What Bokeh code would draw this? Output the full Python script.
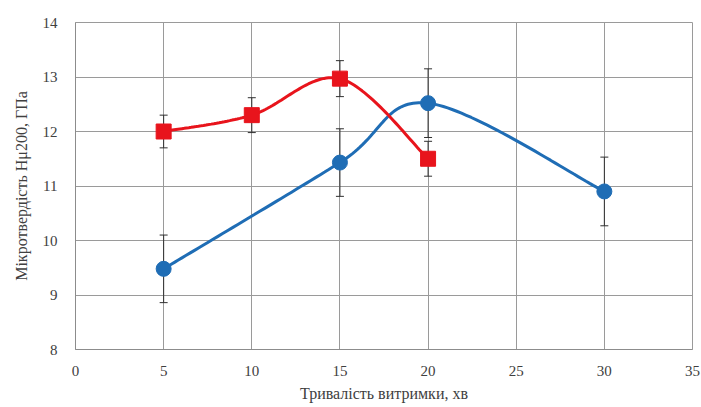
import numpy as np
from bokeh.plotting import figure
from bokeh.models import ColumnDataSource, Whisker, TeeHead, FixedTicker, Range1d
from bokeh.embed import file_html
from bokeh.resources import INLINE

# data
red_x = [5, 10, 15, 20]
red_y = [12.0, 12.3, 12.97, 11.5]
red_err = [0.3, 0.32, 0.33, 0.32]

blue_x = [5, 15, 20, 30]
blue_y = [9.48, 11.43, 12.52, 10.9]
blue_err = [0.62, 0.62, 0.63, 0.63]

x_ticks = [0, 5, 10, 15, 20, 25, 30, 35]
y_ticks = [8, 9, 10, 11, 12, 13, 14]


def smooth(xs, ys, n=40):
    # Catmull-Rom style smoothing (like spreadsheet "smoothed line")
    P = np.column_stack([xs, ys]).astype(float)
    P = np.vstack([P[0], P, P[-1]])
    out = []
    for i in range(1, len(P) - 2):
        p0, p1, p2, p3 = P[i - 1], P[i], P[i + 1], P[i + 2]
        c1 = p1 + (p2 - p0) / 6.0
        c2 = p2 - (p3 - p1) / 6.0
        t = np.linspace(0, 1, n)[:, None]
        seg = ((1 - t) ** 3) * p1 + 3 * ((1 - t) ** 2) * t * c1 + 3 * (1 - t) * t ** 2 * c2 + t ** 3 * p2
        out.append(seg if i == 1 else seg[1:])
    arr = np.vstack(out)
    return arr[:, 0], arr[:, 1]


FONT = "serif"

p = figure(width=701, height=407, output_backend="svg", toolbar_location=None,
           x_range=Range1d(0, 35), y_range=Range1d(8, 14),
           min_border_left=75, min_border_right=9, min_border_top=22, min_border_bottom=58)

p.xaxis.ticker = FixedTicker(ticks=x_ticks)
p.yaxis.ticker = FixedTicker(ticks=y_ticks)
for ax in (p.xaxis[0], p.yaxis[0]):
    ax.major_tick_line_color = None
    ax.minor_tick_line_color = None
    ax.axis_line_color = "#8c8c8c"
    ax.major_label_text_font = FONT
    ax.major_label_text_font_size = "15px"
    ax.major_label_text_color = "#404040"
    ax.axis_label_text_font = FONT
    ax.axis_label_text_font_style = "normal"
    ax.axis_label_text_font_size = "16px"
    ax.axis_label_text_color = "#404040"

p.xaxis.axis_label = "Тривалість витримки, хв"
p.yaxis.axis_label = "Мікротвердість Hμ200, ГПа"
p.xaxis.major_label_standoff = 10
p.yaxis.major_label_standoff = 12
p.xaxis.axis_label_standoff = 6
p.yaxis.axis_label_standoff = 10

p.grid.grid_line_color = "#9a9a9a"
p.grid.grid_line_width = 1
p.outline_line_color = "#9a9a9a"
p.background_fill_color = "white"
p.border_fill_color = "white"

# error bars
for xs, ys, es in ((red_x, red_y, red_err), (blue_x, blue_y, blue_err)):
    src = ColumnDataSource(dict(x=xs, lo=[y - e for y, e in zip(ys, es)], hi=[y + e for y, e in zip(ys, es)]))
    w = Whisker(source=src, base="x", lower="lo", upper="hi", line_color="#303030", line_width=1,
                upper_head=TeeHead(size=8, line_color="#303030", line_width=1),
                lower_head=TeeHead(size=8, line_color="#303030", line_width=1))
    p.add_layout(w)

bx, by = smooth(blue_x, blue_y)
rx, ry = smooth(red_x, red_y)
p.line(bx, by, line_color="#1f6db5", line_width=3)
p.line(rx, ry, line_color="#e8141c", line_width=3)

p.scatter(blue_x, blue_y, marker="circle", size=15, fill_color="#1f6db5", line_color="#1f6db5")
p.scatter(red_x, red_y, marker="square", size=15, fill_color="#e8141c", line_color="#e8141c")

open("out.html", "w").write(file_html(p, INLINE))
